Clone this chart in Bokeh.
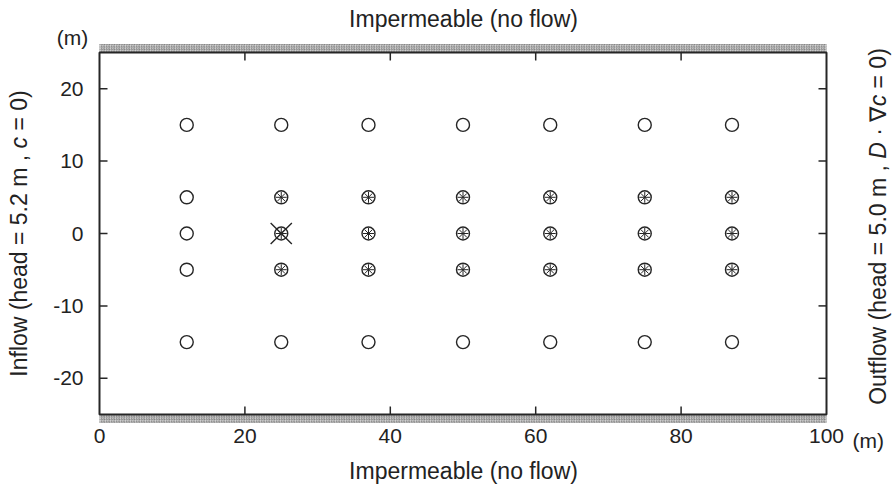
import math
from bokeh.plotting import figure
from bokeh.models import Range1d
from bokeh.core.properties import value
from bokeh.embed import file_html
from bokeh.resources import INLINE

# ---------------- data ----------------
x_ticks = [0, 20, 40, 60, 80, 100]
x_tick_labels = ["0", "20", "40", "60", "80", "100"]
y_ticks = [-20, -10, 0, 10, 20]
y_tick_labels = ["-20", "-10", "0", "10", "20"]

# observation wells (open circles)
open_x = [12, 12, 12, 12, 12, 25, 37, 50, 62, 75, 87, 25, 37, 50, 62, 75, 87]
open_y = [15, 5, 0, -5, -15, 15, 15, 15, 15, 15, 15, -15, -15, -15, -15, -15, -15]
# sampling wells (circle with asterisk)
samp_x = [25, 37, 50, 62, 75, 87] * 3
samp_y = [5] * 6 + [0] * 6 + [-5] * 6
# injection point
inj_x = [25]
inj_y = [0]

domain_x = [0, 100]
domain_y = [-25, 25]

# ---------------- layout (pixel geometry of the domain box) ----------------
W, H = 892, 489
BL, BR, BT, BB = 99, 826, 52, 414
XS = (BR - BL) / (domain_x[1] - domain_x[0])
YS = (BB - BT) / (domain_y[1] - domain_y[0])
x0 = domain_x[0] - BL / XS
x1 = domain_x[1] + (W - BR) / XS
y1 = domain_y[1] + BT / YS
y0 = domain_y[0] - (H - BB) / YS

def dx(px):
    return x0 + px / XS

def dy(py):
    return y1 - py / YS

FONT = "Liberation Sans"
INK = "#262626"
TXT = "#222222"

p = figure(width=W, height=H, output_backend="svg", toolbar_location=None,
           x_range=Range1d(x0, x1), y_range=Range1d(y0, y1),
           x_axis_location=None, y_axis_location=None, min_border=0)
p.outline_line_color = None
p.xgrid.visible = False
p.ygrid.visible = False
p.background_fill_color = "white"
p.border_fill_color = "white"

# hatched impermeable bands
band = 8.5 / YS
for b, t in [(domain_y[1], domain_y[1] + band), (domain_y[0] - band, domain_y[0])]:
    p.quad(left=[domain_x[0]], right=[domain_x[1]], bottom=[b], top=[t],
           fill_color="#d4d4d4", line_color=None, hatch_pattern="/", hatch_scale=2.5,
           hatch_weight=0.8, hatch_color="#7a7a7a")

# domain border
p.quad(left=[domain_x[0]], right=[domain_x[1]], bottom=[domain_y[0]], top=[domain_y[1]],
       fill_color=None, line_color=INK, line_width=2)

# inner ticks on all four sides
tlx = 8 / XS
tly = 8 / YS
tx = [t for t in x_ticks if domain_x[0] < t < domain_x[1]]
n = len(tx)
p.segment(x0=tx, x1=tx, y0=[domain_y[1]] * n, y1=[domain_y[1] - tly] * n,
          line_color=INK, line_width=1.5)
p.segment(x0=tx, x1=tx, y0=[domain_y[0]] * n, y1=[domain_y[0] + tly] * n,
          line_color=INK, line_width=1.5)
m = len(y_ticks)
p.segment(x0=[domain_x[0]] * m, x1=[domain_x[0] + tlx] * m, y0=y_ticks, y1=y_ticks,
          line_color=INK, line_width=1.5)
p.segment(x0=[domain_x[1]] * m, x1=[domain_x[1] - tlx] * m, y0=y_ticks, y1=y_ticks,
          line_color=INK, line_width=1.5)

# tick labels
p.text(x=[dx(83)] * m, y=y_ticks, text=y_tick_labels, text_font=value(FONT),
       text_font_size="21px", text_align="right", text_baseline="middle", text_color=TXT)
p.text(x=x_ticks, y=[dy(428)] * len(x_ticks), text=x_tick_labels, text_font=value(FONT),
       text_font_size="21px", text_align="center", text_baseline="top", text_color=TXT)

# markers
p.scatter(open_x, open_y, marker="circle", size=13, fill_color="white",
          line_color=INK, line_width=1.4)
p.scatter(samp_x, samp_y, marker="circle", size=13, fill_color="white",
          line_color=INK, line_width=1.4)
p.scatter(samp_x, samp_y, marker="asterisk", size=11, line_color=INK, line_width=1.0)
p.scatter(inj_x, inj_y, marker="x", size=30, line_color=INK, line_width=1.4)

# ---------------- text ----------------
def label(px, py, text, size="23px", align="center", baseline="middle", angle=0.0, style="normal"):
    p.text(x=[dx(px)], y=[dy(py)], text=[text], text_font=value(FONT),
           text_font_size=size, text_align=align, text_baseline=baseline, angle=angle,
           text_color=TXT, text_font_style=style)

label(463, 18, "Impermeable (no flow)")
label(463, 470, "Impermeable (no flow)")
label(72, 37, "(m)", size="21px")
label(852, 428, "(m)", size="21px", align="left", baseline="top")

# Arial-metric widths (per 1 em)
CW = {" ": .278, "(": .333, ")": .333, "=": .584, ".": .278, ",": .278, "·": .278,
      "∇": .72, "I": .278, "O": .778, "D": .722, "a": .556, "c": .5, "d": .556, "e": .556,
      "f": .278, "h": .556, "l": .222, "m": .833, "n": .556, "o": .556, "t": .278,
      "u": .556, "w": .722}

def tw(s, fs):
    return sum(CW.get(ch, .556) for ch in s) * fs

def vertical_text(px, center_py, pieces, fs=23):
    total = sum(tw(s, fs) for s, _ in pieces)
    py = center_py + total / 2
    for s, style in pieces:
        st = s.strip()
        lead = tw(s[:len(s) - len(s.lstrip())], fs)
        label(px, py - lead, st, size=f"{fs}px", align="left", baseline="middle",
              angle=math.pi / 2, style=style)
        py -= tw(s, fs)

vertical_text(18, 233, [("Inflow (head = 5.2 m , ", "normal"), ("c", "italic"),
                        (" = 0)", "normal")])
vertical_text(877, 226, [("Outflow (head = 5.0 m , ", "normal"), ("D", "italic"),
                         (" · ∇", "normal"), ("c", "italic"), (" = 0)", "normal")])

open("out.html", "w").write(file_html(p, INLINE))
